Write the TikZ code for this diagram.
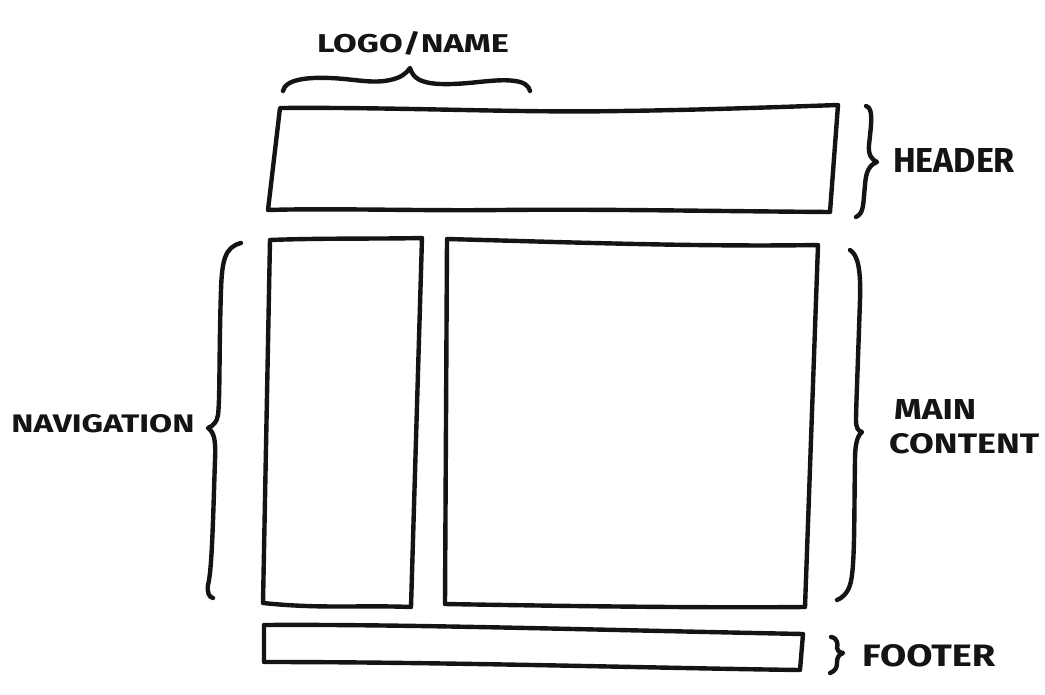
\documentclass[tikz,border=0pt]{standalone}
\usepackage{fontspec}
\setmainfont{Fira Sans}
\begin{document}
\begin{tikzpicture}[x=1pt,y=-1pt,
  ink/.style={line width=4.4pt,line cap=round,line join=round,draw=black!92},
  lbl/.style={inner sep=0pt,text=black!92}]
\fill[white] (0,0) rectangle (1045,694);
\useasboundingbox (0,0) rectangle (1045,694);

% box corners
\coordinate (h1) at (280,108); \coordinate (h2) at (838,105);
\coordinate (h3) at (830,212); \coordinate (h4) at (268,210);
\coordinate (n1) at (270,240); \coordinate (n2) at (422,238);
\coordinate (n3) at (411,607); \coordinate (n4) at (263,603);
\coordinate (m1) at (447,239); \coordinate (m2) at (818,245);
\coordinate (m3) at (805,607); \coordinate (m4) at (445,604);
\coordinate (f1) at (264,625); \coordinate (f2) at (803,634);
\coordinate (f3) at (800,670); \coordinate (f4) at (264,662);

% header box
\draw[ink] (h1) .. controls (400,107) and (520,113) .. (620,111) .. controls (700,110) and (780,107) .. (h2)
  -- (h3) .. controls (700,211) and (600,209) .. (500,210) .. controls (420,211) and (330,208) .. (h4) -- cycle;
% navigation box
\draw[ink] (n1) .. controls (320,238) and (380,239) .. (n2) -- (n3)
  .. controls (360,605) and (320,609) .. (n4) -- cycle;
% main content box
\draw[ink] (m1) .. controls (560,242) and (700,247) .. (m2) -- (m3)
  .. controls (700,608) and (560,606) .. (m4) -- cycle;
% footer box
\draw[ink] (f1) .. controls (400,624) and (600,630) .. (f2) -- (f3)
  .. controls (650,668) and (450,662) .. (f4) -- cycle;

% braces
\draw[ink] (283,91) .. controls (285,80) and (305,77) .. (330,78)
  .. controls (355,79) and (372,84) .. (390,80) .. controls (400,78) and (406,74) .. (410,68)
  .. controls (413,78) and (420,83) .. (440,84) .. controls (470,85) and (495,78) .. (515,81)
  .. controls (524,82) and (529,86) .. (530,91);
\draw[ink] (866,106) .. controls (874,108) and (871,125) .. (869,145)
  .. controls (868,155) and (872,160) .. (877,162) .. controls (870,165) and (866,170) .. (865,185)
  .. controls (863,205) and (864,213) .. (856,217);
\draw[ink] (241,243) .. controls (225,247) and (222,260) .. (221,290)
  .. controls (219,350) and (220,400) .. (218,415) .. controls (217,422) and (213,426) .. (208,428)
  .. controls (214,432) and (216,440) .. (215,460) .. controls (213,520) and (212,570) .. (208,585)
  .. controls (207,593) and (209,597) .. (213,598);
\draw[ink] (850,250) .. controls (858,255) and (861,270) .. (860,300)
  .. controls (858,360) and (856,410) .. (856,420) .. controls (856,428) and (858,431) .. (862,432)
  .. controls (857,436) and (855,445) .. (855,460) .. controls (854,520) and (855,570) .. (850,585)
  .. controls (847,594) and (842,598) .. (837,600);
\draw[ink] (831,637) .. controls (838,638) and (838,645) .. (837,648)
  .. controls (837,651) and (839,652) .. (843,653) .. controls (838,655) and (837,658) .. (837,663)
  .. controls (837,668) and (835,671) .. (830,673);

% labels
\node[lbl] (logo) at (413,43) {\resizebox{192pt}{21pt}{\bfseries LOGO/NAME}};
\node[lbl] (header) at (954,160) {\resizebox{122pt}{24pt}{\bfseries HEADER}};
\node[lbl] (nav) at (103,424) {\resizebox{183pt}{18pt}{\bfseries NAVIGATION}};
\node[lbl,anchor=west] (main) at (894,409) {\resizebox{82pt}{20pt}{\bfseries MAIN}};
\node[lbl,anchor=west] (content) at (889,444) {\resizebox{150pt}{20pt}{\bfseries CONTENT}};
\node[lbl,anchor=west] (footer) at (862,656) {\resizebox{133pt}{22pt}{\bfseries FOOTER}};
\end{tikzpicture}
\end{document}
